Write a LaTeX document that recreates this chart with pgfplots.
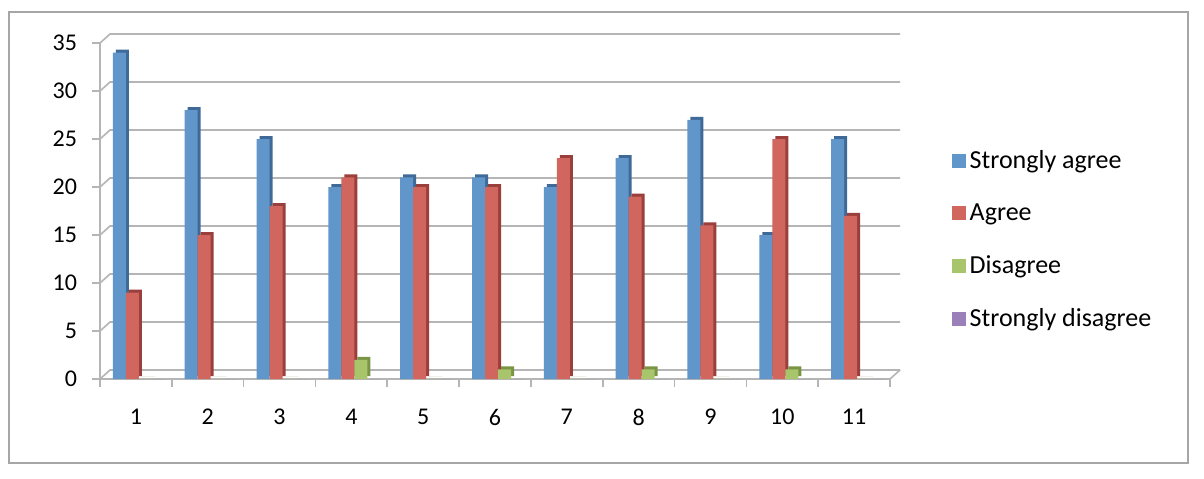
\documentclass[border=0pt]{standalone}
\usepackage{pgfplots}
\usepackage{pgfplotstable}
\pgfplotsset{compat=1.18}
\usepackage{fontspec}
\setmainfont{Carlito}
\definecolor{cblue}{HTML}{6196CB}
\definecolor{cblueD}{HTML}{3F6A98}
\definecolor{cred}{HTML}{D1665F}
\definecolor{credD}{HTML}{9A3F3B}
\definecolor{cgreen}{HTML}{A9C56B}
\definecolor{cgreenD}{HTML}{7A9446}
\definecolor{cpurple}{HTML}{9A7FB9}
\definecolor{gridc}{HTML}{B5B5B5}
\definecolor{framec}{HTML}{A6A6A6}
\pgfplotstableread{
cat sa a d sd
1 34 9 0 0
2 28 15 0 0
3 25 18 0 0
4 20 21 2 0
5 21 20 0 0
6 21 20 1 0
7 20 23 0 0
8 23 19 1 0
9 27 16 0 0
10 15 25 1 0
11 25 17 0 0
}\datatable
\begin{document}
\begin{tikzpicture}
\path[fill=white] (0,0) rectangle (602pt,239pt);
\draw[framec, line width=0.75pt] (4.5pt,7.5pt) rectangle (594pt,233pt);
\begin{axis}[
  at={(50pt,49.5pt)}, anchor=south west,
  scale only axis, width=395pt, height=168pt,
  xmin=0.5, xmax=11.5, ymin=0, ymax=35,
  axis x line*=bottom, axis y line*=left,
  axis line style={draw=gridc, line width=0.8pt},
  ytick={0,5,...,35},
  xtick={1,...,11},
  minor xtick={0.5,1.5,...,11.5},
  major x tick style={draw=none},
  minor x tick style={draw=gridc, line width=0.8pt},
  ytick style={draw=gridc, line width=0.8pt},
  tick align=outside,
  major tick length=4pt, minor tick length=4pt,
  /pgf/number format/assume math mode=true,
  tick label style={font=\fontsize{12}{14}\selectfont},
  xticklabel style={yshift=-7.5pt},
  yticklabel style={xshift=-4pt},
  clip=false,
  legend style={at={(1.07,0.414)}, anchor=west, draw=none, fill=none,
    font=\fontsize{13}{15}\selectfont, row sep=12pt},
  legend cell align=left,
  mybar/.style={ybar, bar width=6.5pt, draw=none,
    legend image code/.code={\fill[##1] (0pt,-3.5pt) rectangle (7pt,3.5pt);}},
  backbar/.style={ybar, bar width=6.5pt, draw=none, xshift=1.5pt, yshift=1.5pt, forget plot},
]
\pgfplotsinvokeforeach{0,5,...,35}{
  \draw[gridc, line width=0.8pt] (axis cs:0.5,#1) -- ([xshift=5pt,yshift=4.5pt]axis cs:0.5,#1) -- ([xshift=5pt,yshift=4.5pt]axis cs:11.5,#1);
}
\draw[gridc, line width=0.8pt] (axis cs:11.5,0) -- ([xshift=5pt,yshift=4.5pt]axis cs:11.5,0);
\addplot[backbar, fill=cblueD, bar shift=-8.25pt] table[x=cat,y=sa]{\datatable};
\addplot[mybar, fill=cblue, bar shift=-8.25pt] table[x=cat,y=sa]{\datatable};
\addplot[backbar, fill=credD, bar shift=-1.75pt] table[x=cat,y=a]{\datatable};
\addplot[mybar, fill=cred, bar shift=-1.75pt] table[x=cat,y=a]{\datatable};
\addplot[backbar, fill=cgreenD, bar shift=4.75pt] table[x=cat,y=d]{\datatable};
\addplot[mybar, fill=cgreen, bar shift=4.75pt] table[x=cat,y=d]{\datatable};
\addplot[mybar, fill=cpurple, bar shift=11.25pt] table[x=cat,y=sd]{\datatable};
\legend{Strongly agree, Agree, Disagree, Strongly disagree}
\end{axis}
\end{tikzpicture}
\end{document}
